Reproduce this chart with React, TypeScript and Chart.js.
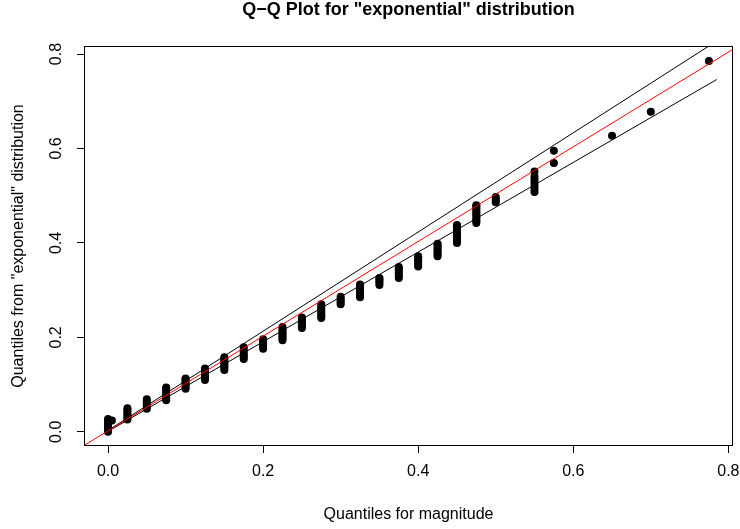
import { useEffect, useRef } from "react";
import { Chart, registerables } from "chart.js";

Chart.register(...registerables);

const TITLE = 'Q\u2212Q Plot for "exponential" distribution';
const X_TITLE = "Quantiles for magnitude";
const Y_TITLE = 'Quantiles from "exponential" distribution';

const xTicks = [0, 0.2, 0.4, 0.6, 0.8];
const yTicks = [0, 0.2, 0.4, 0.6, 0.8];

// observed magnitude levels (x) and the theoretical quantiles plotted at each level (y)
const magnitudeLevels = [
  0, 0.025, 0.05, 0.075, 0.1, 0.125, 0.15, 0.175, 0.2, 0.225, 0.25, 0.275, 0.3,
  0.325, 0.35, 0.375, 0.4, 0.425, 0.45, 0.475, 0.5, 0.55, 0.575, 0.65, 0.7, 0.775,
];
const quantileColumns: number[][] = [
  [0.0, 0.004, 0.008, 0.012, 0.016, 0.02, 0.024, 0.027],
  [0.026, 0.03, 0.034, 0.038, 0.042, 0.046, 0.05],
  [0.049, 0.053, 0.057, 0.061, 0.065, 0.069],
  [0.067, 0.071, 0.075, 0.079, 0.083, 0.087, 0.091, 0.094],
  [0.091, 0.095, 0.099, 0.103, 0.107, 0.111, 0.113],
  [0.11, 0.114, 0.118, 0.122, 0.126, 0.13, 0.134],
  [0.131, 0.135, 0.139, 0.143, 0.147, 0.151, 0.155, 0.158],
  [0.154, 0.158, 0.162, 0.166, 0.17, 0.174, 0.179],
  [0.176, 0.18, 0.184, 0.188, 0.192, 0.196],
  [0.194, 0.198, 0.202, 0.206, 0.21, 0.214, 0.218, 0.222],
  [0.22, 0.224, 0.228, 0.232, 0.236, 0.24, 0.242],
  [0.241, 0.245, 0.249, 0.253, 0.257, 0.261, 0.265, 0.27],
  [0.27, 0.274, 0.278, 0.282, 0.286],
  [0.285, 0.289, 0.293, 0.297, 0.301, 0.305, 0.309, 0.312],
  [0.311, 0.315, 0.319, 0.323, 0.326],
  [0.326, 0.33, 0.334, 0.338, 0.342, 0.346, 0.349],
  [0.35, 0.354, 0.358, 0.362, 0.366, 0.37, 0.372],
  [0.372, 0.376, 0.38, 0.384, 0.388, 0.392, 0.396, 0.398],
  [0.4, 0.404, 0.408, 0.412, 0.416, 0.42, 0.424, 0.428, 0.432, 0.436, 0.438],
  [0.442, 0.446, 0.45, 0.454, 0.458, 0.462, 0.466, 0.47, 0.474, 0.478, 0.48],
  [0.486, 0.49, 0.494, 0.497],
  [0.508, 0.514, 0.521, 0.528, 0.535, 0.54, 0.551],
  [0.569, 0.595],
  [0.627],
  [0.678],
  [0.785],
];
const extraX = [0.005];
const extraY = [0.024];

// reference line and confidence band end points
const refLineX = [-0.031, 0.806];
const refLineY = [-0.029, 0.81];
const upperBandX = [0, 0.775];
const upperBandY = [0.003, 0.817];
const lowerBandX = [0, 0.785];
const lowerBandY = [0.001, 0.746];

const FONT_FAMILY = "'Liberation Sans', Arial, Helvetica, sans-serif";

export default function App() {
  const ref = useRef<HTMLCanvasElement>(null);

  useEffect(() => {
    if (!ref.current) return;
    const points: { x: number; y: number }[] = [];
    magnitudeLevels.forEach((x, i) => {
      quantileColumns[i].forEach((y) => points.push({ x, y }));
    });
    extraX.forEach((x, i) => points.push({ x, y: extraY[i] }));

    const toXY = (xs: number[], ys: number[]) => xs.map((x, i) => ({ x, y: ys[i] }));

    const overlay = {
      id: "overlay",
      afterDraw(chart: any) {
        const { ctx, chartArea: a, scales } = chart;
        ctx.save();
        ctx.strokeStyle = "#000";
        ctx.lineWidth = 1;
        ctx.strokeRect(Math.round(a.left) + 0.5, Math.round(a.top) + 0.5, Math.round(a.right - a.left) - 1, Math.round(a.bottom - a.top) - 1);
        ctx.fillStyle = "#000";
        ctx.font = `bold 18px ${FONT_FAMILY}`;
        ctx.textAlign = "center";
        ctx.textBaseline = "middle";
        ctx.fillText(TITLE, (a.left + a.right) / 2, 10);
        ctx.font = `16px ${FONT_FAMILY}`;
        yTicks.forEach((v) => {
          const py = scales.y.getPixelForValue(v);
          ctx.save();
          ctx.translate(57, py);
          ctx.rotate(-Math.PI / 2);
          ctx.fillText(v.toFixed(1), 0, 0);
          ctx.restore();
        });
        ctx.restore();
      },
    };

    const chart = new Chart(ref.current, {
      type: "scatter",
      data: {
        datasets: [
          { data: toXY(refLineX, refLineY), showLine: true, borderColor: "#ff0000", borderWidth: 1, pointRadius: 0, fill: false },
          { data: toXY(upperBandX, upperBandY), showLine: true, borderColor: "#000", borderWidth: 1, pointRadius: 0, fill: false },
          { data: toXY(lowerBandX, lowerBandY), showLine: true, borderColor: "#000", borderWidth: 1, pointRadius: 0, fill: false },
          { data: points, pointRadius: 4, pointHoverRadius: 4, backgroundColor: "#000", borderWidth: 0 },
        ],
      },
      options: {
        responsive: false,
        maintainAspectRatio: false,
        animation: false,
        layout: { padding: { top: 46, right: 7, left: 0, bottom: 0 } },
        plugins: { legend: { display: false }, tooltip: { enabled: false }, title: { display: false } },
        scales: {
          x: {
            type: "linear",
            min: -0.031,
            max: 0.806,
            afterBuildTicks: (s: any) => { s.ticks = xTicks.map((v) => ({ value: v })); },
            afterFit: (s: any) => { s.height = 83; s.paddingLeft = 0; s.paddingRight = 0; },
            grid: { display: true, drawOnChartArea: false, drawTicks: true, tickLength: 7, color: "#000", lineWidth: 1 },
            border: { display: false },
            ticks: { color: "#000", font: { family: FONT_FAMILY, size: 16 }, padding: 9, maxRotation: 0, minRotation: 0, callback: (v: any) => Number(v).toFixed(1) },
            title: { display: true, text: X_TITLE, color: "#000", font: { family: FONT_FAMILY, size: 16 }, padding: { top: 0, bottom: 5 } },
          },
          y: {
            type: "linear",
            min: -0.03,
            max: 0.817,
            afterBuildTicks: (s: any) => { s.ticks = yTicks.map((v) => ({ value: v })); },
            afterFit: (s: any) => { s.width = 84; s.paddingTop = 0; s.paddingBottom = 0; },
            grid: { display: true, drawOnChartArea: false, drawTicks: true, tickLength: 7, color: "#000", lineWidth: 1 },
            border: { display: false },
            ticks: { display: false },
            title: { display: true, text: Y_TITLE, color: "#000", font: { family: FONT_FAMILY, size: 16 }, padding: { top: 9, bottom: 0 } },
          },
        },
      },
      plugins: [overlay],
    } as any);
    return () => chart.destroy();
  }, []);

  return (
    <div style={{ position: "fixed", left: 0, top: 0, width: 740, height: 529, background: "#fff" }}>
      <canvas ref={ref} width={740} height={529} style={{ display: "block" }} />
    </div>
  );
}
